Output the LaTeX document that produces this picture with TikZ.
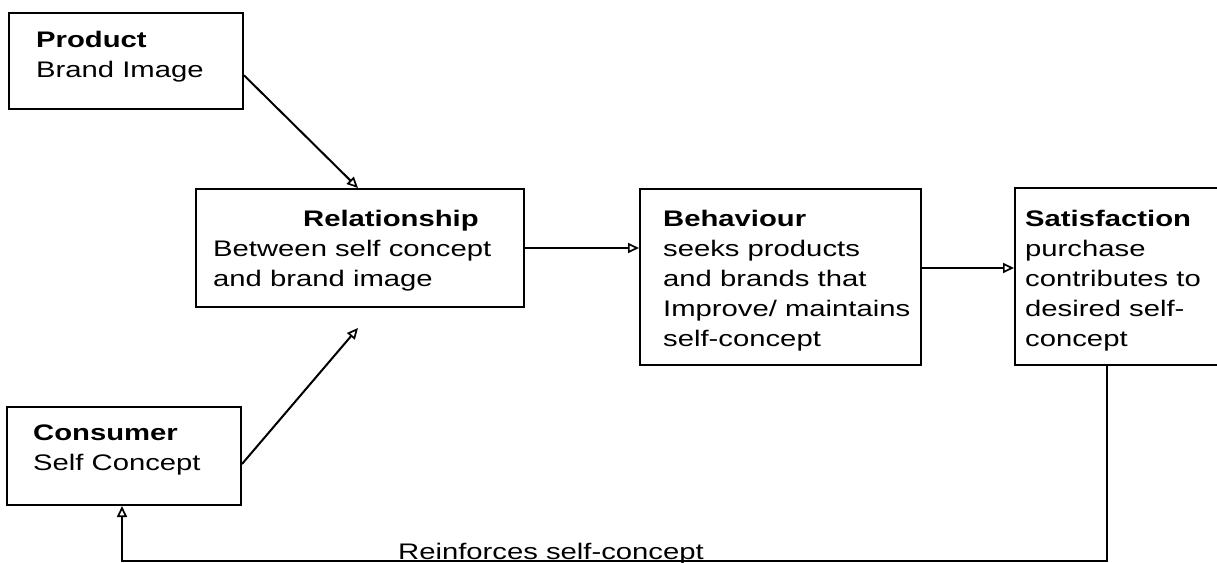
\documentclass[tikz,border=0pt]{standalone}
\usepackage{fontspec}
\setmainfont{Liberation Sans}[FakeStretch=1.3]
\usetikzlibrary{arrows.meta,calc}
\begin{document}
\begin{tikzpicture}[x=1pt,y=-1pt,
  boxnode/.style={draw,line width=2pt,inner sep=0pt,anchor=north west},
  txt/.style={anchor=base west,align=left,inner sep=0pt,font=\fontsize{22.5}{30}\selectfont},
  conn/.style={line width=2pt},
  arr/.style={conn,-{Triangle[open,length=11pt,width=10pt,line width=1.7pt]}}]
\useasboundingbox (0,0) rectangle (1217,562);
\clip (0,0) rectangle (1217,562);
\fill[white] (0,0) rectangle (1217,562);
% boxes
\node[boxnode,minimum width=234pt,minimum height=96pt] (prod) at (8,12) {};
\node[boxnode,minimum width=328pt,minimum height=118pt] (rel) at (195,188) {};
\node[boxnode,minimum width=281pt,minimum height=176pt] (beh) at (639,188) {};
\node[boxnode,minimum width=240pt,minimum height=177pt] (sat) at (1014,187) {};
\node[boxnode,minimum width=234pt,minimum height=98pt] (cons) at (6,406) {};
% texts (anchored at the baseline of the last line)
\node[txt] (prodT) at (36,77) {\textbf{Product}\\Brand Image};
\node[txt] (relT) at (213,286.5) {\hspace*{90pt}\textbf{Relationship}\\Between self concept\\and brand image};
\node[txt] (behT) at (663,346) {\textbf{Behaviour}\\seeks products\\and brands that\\Improve/ maintains\\self-concept};
\node[txt] (satT) at (1025,346) {\textbf{Satisfaction}\\purchase\\contributes to\\desired self-\\concept};
\node[txt] (consT) at (33,470) {\textbf{Consumer}\\Self Concept};
\node[txt] (reinf) at (398,559) {Reinforces self-concept};
% connectors
\coordinate (relin) at (358,328);
\coordinate (c1) at (1107,561);
\coordinate (c2) at (122,561);
\coordinate (b1) at ($(beh.east)+(0,-9)$);
\draw[arr] ($(prod.north east)!0.646!(prod.south east)$) -- ($(rel.north west)+(163,0)$);
\draw[arr] ($(cons.north east)!0.58!(cons.south east)$) -- (relin);
\draw[arr] (rel.east) -- (rel.east -| beh.west);
\draw[arr] (b1) -- (b1 -| sat.west);
\draw[arr] (c1 |- sat.south) -- (c1) -- (c2) -- (c2 |- cons.south);
\end{tikzpicture}
\end{document}
